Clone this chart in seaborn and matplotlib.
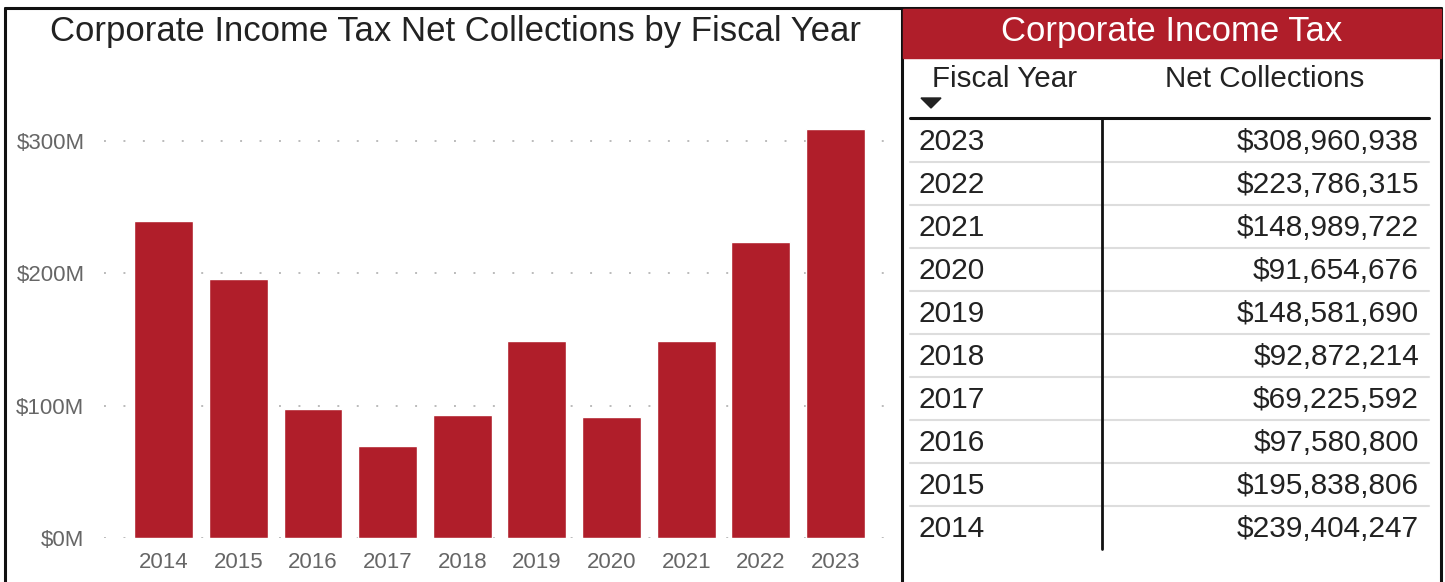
import matplotlib
matplotlib.use("Agg")
import matplotlib.pyplot as plt
import seaborn as sns
import pandas as pd
from matplotlib.patches import Rectangle, Polygon
from matplotlib.lines import Line2D

years = ["2014", "2015", "2016", "2017", "2018", "2019", "2020", "2021", "2022", "2023"]
collections = [239404247, 195838806, 97580800, 69225592, 92872214,
               148581690, 91654676, 148989722, 223786315, 308960938]
yticks = [0, 100e6, 200e6, 300e6]
ytick_labels = ["$0M", "$100M", "$200M", "$300M"]
title = "Corporate Income Tax Net Collections by Fiscal Year"
table_title = "Corporate Income Tax"
col_headers = ["Fiscal Year", "Net Collections"]

RED = "#B01E2A"
W, H = 1445, 582
sns.set_theme(style="white")
plt.rcParams["font.family"] = ["Liberation Sans", "DejaVu Sans"]

fig = plt.figure(figsize=(W / 100, H / 100), dpi=100)
fig.patch.set_facecolor("white")

def fx(x):
    return x / W

def fy(y):
    return 1 - y / H

# bar chart axes
left, right, top, bottom = 104, 890, 100, 538
ax = fig.add_axes([fx(left), fy(bottom), fx(right - left), (bottom - top) / H])
df = pd.DataFrame({"year": years, "value": collections})
sns.barplot(data=df, x="year", y="value", color=RED, saturation=1, width=0.79, ax=ax, zorder=3)
ax.set_xlim(-0.8, 9.73)
ax.set_ylim(0, 331e6)
ax.set_yticks(yticks)
ax.set_yticklabels(ytick_labels)
ax.set_xlabel("")
ax.set_ylabel("")
for s in ax.spines.values():
    s.set_visible(False)
for yv in yticks:
    ax.axhline(yv, color="#BBBBBB", linestyle=(0, (1, 9)), linewidth=1.4, zorder=1)
ax.tick_params(axis="both", length=0, labelsize=16, colors="#666666")
ax.tick_params(axis="y", pad=14)
ax.tick_params(axis="x", pad=10)

# overlay axes in pixel coordinates
ov = fig.add_axes([0, 0, 1, 1], zorder=5)
ov.set_xlim(0, W)
ov.set_ylim(H, 0)
ov.axis("off")
ov.patch.set_alpha(0)

# panel borders
bc = "#111111"
ov.add_line(Line2D([5, 1441], [8, 8], color=bc, lw=2.2))
ov.add_line(Line2D([5, 5], [8, H], color=bc, lw=2.2))
ov.add_line(Line2D([902, 902], [8, H], color=bc, lw=2.2))
ov.add_line(Line2D([1441, 1441], [8, H], color=bc, lw=2.2))

ov.text(456, 32, title, ha="center", va="center", fontsize=25, color="#222222")

# table header
ov.add_patch(Rectangle((903, 9), 538, 49, color=RED, zorder=2))
ov.text(1172, 32, table_title, ha="center", va="center", fontsize=25, color="white", zorder=3)
ov.text(1005, 79, col_headers[0], ha="center", va="center", fontsize=21.3, color="#222222")
ov.text(1265, 79, col_headers[1], ha="center", va="center", fontsize=21.3, color="#222222")
ov.add_patch(Polygon([[921, 98], [941, 98], [931, 108]], closed=True, color="#222222"))
ov.add_line(Line2D([910, 1429], [118, 118], color=bc, lw=2.2))
row_h = 43
first_row = 140
n = len(years)
ov.add_line(Line2D([1102, 1102], [118, first_row + (n - 1) * row_h + 22], color=bc, lw=2.0))
for i, (yr, val) in enumerate(zip(years[::-1], collections[::-1])):
    yc = first_row + i * row_h
    ov.text(918, yc + 2, yr, ha="left", va="center", fontsize=21.5, color="#222222")
    ov.text(1419, yc + 2, "${:,}".format(val), ha="right", va="center", fontsize=21.5, color="#222222")
    if i < n - 1:
        ov.add_line(Line2D([910, 1429], [yc + 22, yc + 22], color="#DDDDDD", lw=1.5, zorder=1))

fig.savefig("out.png", dpi=100)
